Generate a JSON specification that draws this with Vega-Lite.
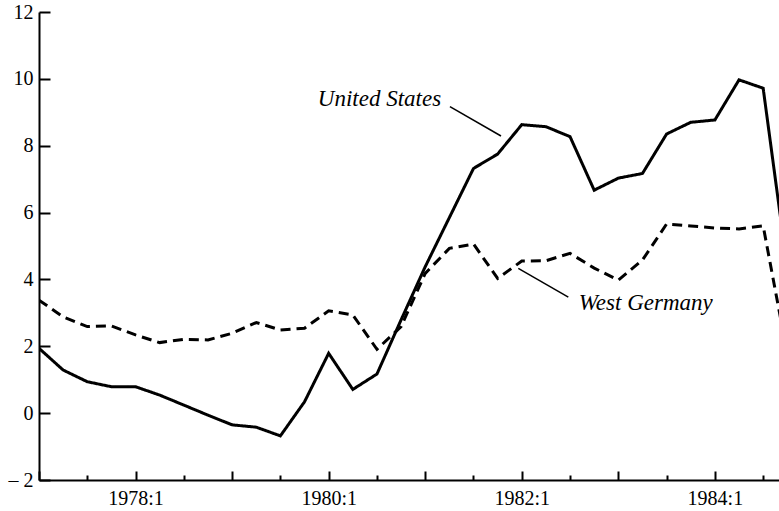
{
  "$schema": "https://vega.github.io/schema/vega-lite/v6.json",
  "width": 740,
  "height": 468,
  "autosize": {"type": "none"},
  "padding": {"left": 39, "top": 12, "right": 0, "bottom": 31},
  "background": "white",
  "config": {"view": {"stroke": null}, "font": "Liberation Serif"},
  "datasets": {
    "series": [
      {"series": "United States", "t": 1977.0, "v": 1.94},
      {"series": "United States", "t": 1977.25, "v": 1.29},
      {"series": "United States", "t": 1977.5, "v": 0.94},
      {"series": "United States", "t": 1977.75, "v": 0.79},
      {"series": "United States", "t": 1978.0, "v": 0.79},
      {"series": "United States", "t": 1978.25, "v": 0.54},
      {"series": "United States", "t": 1978.5, "v": 0.24},
      {"series": "United States", "t": 1978.75, "v": -0.06},
      {"series": "United States", "t": 1979.0, "v": -0.35},
      {"series": "United States", "t": 1979.25, "v": -0.42},
      {"series": "United States", "t": 1979.5, "v": -0.68},
      {"series": "United States", "t": 1979.75, "v": 0.34},
      {"series": "United States", "t": 1980.0, "v": 1.79},
      {"series": "United States", "t": 1980.25, "v": 0.71},
      {"series": "United States", "t": 1980.5, "v": 1.17},
      {"series": "United States", "t": 1980.75, "v": 2.79},
      {"series": "United States", "t": 1981.0, "v": 4.38},
      {"series": "United States", "t": 1981.25, "v": 5.85},
      {"series": "United States", "t": 1981.5, "v": 7.32},
      {"series": "United States", "t": 1981.75, "v": 7.75},
      {"series": "United States", "t": 1982.0, "v": 8.63},
      {"series": "United States", "t": 1982.25, "v": 8.57},
      {"series": "United States", "t": 1982.5, "v": 8.27},
      {"series": "United States", "t": 1982.75, "v": 6.67},
      {"series": "United States", "t": 1983.0, "v": 7.03},
      {"series": "United States", "t": 1983.25, "v": 7.17},
      {"series": "United States", "t": 1983.5, "v": 8.35},
      {"series": "United States", "t": 1983.75, "v": 8.7},
      {"series": "United States", "t": 1984.0, "v": 8.77},
      {"series": "United States", "t": 1984.25, "v": 9.97},
      {"series": "United States", "t": 1984.5, "v": 9.72},
      {"series": "United States", "t": 1984.75, "v": 4.34},
      {"series": "West Germany", "t": 1977.0, "v": 3.38},
      {"series": "West Germany", "t": 1977.25, "v": 2.88},
      {"series": "West Germany", "t": 1977.5, "v": 2.59},
      {"series": "West Germany", "t": 1977.75, "v": 2.61},
      {"series": "West Germany", "t": 1978.0, "v": 2.34},
      {"series": "West Germany", "t": 1978.25, "v": 2.11},
      {"series": "West Germany", "t": 1978.5, "v": 2.21},
      {"series": "West Germany", "t": 1978.75, "v": 2.19},
      {"series": "West Germany", "t": 1979.0, "v": 2.39},
      {"series": "West Germany", "t": 1979.25, "v": 2.71},
      {"series": "West Germany", "t": 1979.5, "v": 2.49},
      {"series": "West Germany", "t": 1979.75, "v": 2.54},
      {"series": "West Germany", "t": 1980.0, "v": 3.06},
      {"series": "West Germany", "t": 1980.25, "v": 2.94},
      {"series": "West Germany", "t": 1980.5, "v": 1.91},
      {"series": "West Germany", "t": 1980.75, "v": 2.59},
      {"series": "West Germany", "t": 1981.0, "v": 4.18},
      {"series": "West Germany", "t": 1981.25, "v": 4.93},
      {"series": "West Germany", "t": 1981.5, "v": 5.06},
      {"series": "West Germany", "t": 1981.75, "v": 4.03},
      {"series": "West Germany", "t": 1982.0, "v": 4.55},
      {"series": "West Germany", "t": 1982.25, "v": 4.56},
      {"series": "West Germany", "t": 1982.5, "v": 4.78},
      {"series": "West Germany", "t": 1982.75, "v": 4.34},
      {"series": "West Germany", "t": 1983.0, "v": 3.98},
      {"series": "West Germany", "t": 1983.25, "v": 4.58},
      {"series": "West Germany", "t": 1983.5, "v": 5.66},
      {"series": "West Germany", "t": 1983.75, "v": 5.6},
      {"series": "West Germany", "t": 1984.0, "v": 5.54},
      {"series": "West Germany", "t": 1984.25, "v": 5.51},
      {"series": "West Germany", "t": 1984.5, "v": 5.6},
      {"series": "West Germany", "t": 1984.75, "v": 1.77}
    ],
    "labels": [
      {"label": "United States", "t": 1980.526, "v": 9.39},
      {"label": "West Germany", "t": 1983.284, "v": 3.3}
    ],
    "leaders": [
      {"t": 1981.256, "v": 9.17, "t2": 1981.785, "v2": 8.29},
      {"t": 1981.964, "v": 4.33, "t2": 1982.482, "v2": 3.47}
    ]
  },
  "layer": [
    {
      "data": {"name": "series"},
      "mark": {"type": "line", "color": "black", "strokeWidth": 3, "clip": true, "strokeJoin": "miter"},
      "encoding": {
        "x": {
          "field": "t", "type": "quantitative",
          "scale": {"domain": [1977, 1984.664], "nice": false, "zero": false},
          "axis": {
            "title": null, "grid": false,
            "values": [1977, 1977.25, 1977.5, 1977.75, 1978, 1978.25, 1978.5, 1978.75, 1979, 1979.25, 1979.5, 1979.75, 1980, 1980.25, 1980.5, 1980.75, 1981, 1981.25, 1981.5, 1981.75, 1982, 1982.25, 1982.5, 1982.75, 1983, 1983.25, 1983.5, 1983.75, 1984, 1984.25, 1984.5],
            "labelExpr": "datum.value % 2 == 0 ? datum.value + ':1' : ''",
            "tickSize": {"condition": {"test": "datum.value == floor(datum.value)", "value": -9}, "value": -5},
            "tickWidth": 2, "tickColor": "black",
            "domainColor": "black", "domainWidth": 2,
            "labelFont": "Liberation Serif", "labelFontSize": 20, "labelColor": "black",
            "labelPadding": 17, "labelFlush": false, "labelOverlap": false, "labelBaseline": "top"
          }
        },
        "y": {
          "field": "v", "type": "quantitative",
          "scale": {"domain": [-2, 12], "nice": false, "zero": false},
          "axis": {
            "title": null, "grid": false,
            "values": [-2, 0, 2, 4, 6, 8, 10, 12],
            "labelExpr": "datum.value < 0 ? '\u2013 2' : datum.label",
            "tickSize": -11, "tickWidth": 2, "tickColor": "black",
            "domainColor": "black", "domainWidth": 2,
            "labelFont": "Liberation Serif", "labelFontSize": 20, "labelColor": "black",
            "labelPadding": 17, "labelOverlap": false
          }
        },
        "detail": {"field": "series"},
        "strokeDash": {
          "field": "series", "type": "nominal",
          "scale": {"domain": ["United States", "West Germany"], "range": [[1, 0], [10, 6]]},
          "legend": null
        }
      }
    },
    {
      "mark": {"type": "rule", "color": "black", "strokeWidth": 2},
      "encoding": {"y": {"datum": 12}}
    },
    {
      "data": {"name": "leaders"},
      "mark": {"type": "rule", "color": "black", "strokeWidth": 1.5},
      "encoding": {
        "x": {"field": "t", "type": "quantitative"},
        "x2": {"field": "t2"},
        "y": {"field": "v", "type": "quantitative"},
        "y2": {"field": "v2"}
      }
    },
    {
      "data": {"name": "labels"},
      "mark": {"type": "text", "font": "Liberation Serif", "fontStyle": "italic", "fontSize": 23, "color": "black", "align": "center", "baseline": "middle"},
      "encoding": {
        "x": {"field": "t", "type": "quantitative"},
        "y": {"field": "v", "type": "quantitative"},
        "text": {"field": "label"}
      }
    }
  ]
}
